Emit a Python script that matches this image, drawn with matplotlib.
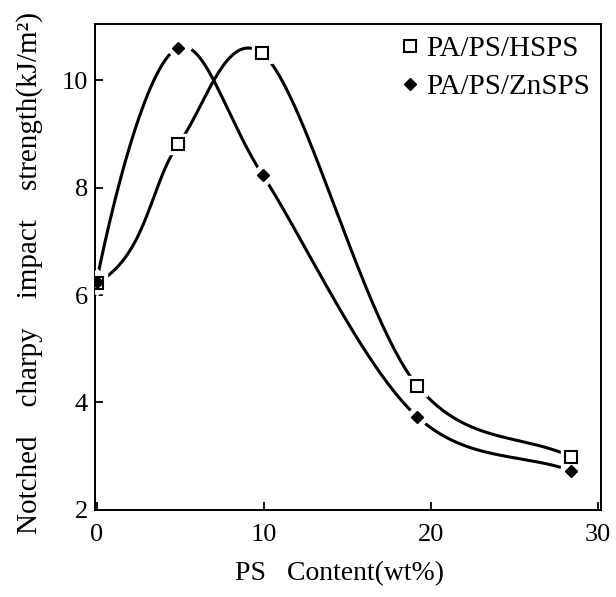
import matplotlib
matplotlib.use("Agg")
import matplotlib.pyplot as plt
import numpy as np

# PS content (wt%) and notched charpy impact strength (kJ/m^2)
x_hsps = [0.0, 4.9, 9.9, 19.2, 28.4]
y_hsps = [6.22, 8.81, 10.5, 4.31, 2.99]
x_znsps = [0.0, 4.85, 9.95, 19.2, 28.4]
y_znsps = [6.25, 10.6, 8.23, 3.73, 2.73]

XLIM = (-0.1, 30.2)
YLIM = (2, 11.05)


def smooth_curve(xs, ys, sx, sy, start_dir, alpha=0.15, n=60):
    """Catmull-Rom curve through the points, worked out in screen units."""
    p = np.column_stack([np.asarray(xs) * sx, np.asarray(ys) * sy])
    d = np.asarray(start_dir, float)
    d = d / np.linalg.norm(d)
    first = p[0] - 1.5 * d * np.linalg.norm(p[1] - p[0])
    p = np.vstack([first, p, 2 * p[-1] - p[-2]])
    out = []
    for i in range(1, len(p) - 2):
        p0, p1, p2, p3 = p[i - 1], p[i], p[i + 1], p[i + 2]
        t0 = 0.0
        t1 = t0 + np.linalg.norm(p1 - p0) ** alpha
        t2 = t1 + np.linalg.norm(p2 - p1) ** alpha
        t3 = t2 + np.linalg.norm(p3 - p2) ** alpha
        t = np.linspace(t1, t2, n)[:, None]
        a1 = (t1 - t) / (t1 - t0) * p0 + (t - t0) / (t1 - t0) * p1
        a2 = (t2 - t) / (t2 - t1) * p1 + (t - t1) / (t2 - t1) * p2
        a3 = (t3 - t) / (t3 - t2) * p2 + (t - t2) / (t3 - t2) * p3
        b1 = (t2 - t) / (t2 - t0) * a1 + (t - t0) / (t2 - t0) * a2
        b2 = (t3 - t) / (t3 - t1) * a2 + (t - t1) / (t3 - t1) * a3
        c = (t2 - t) / (t2 - t1) * b1 + (t - t1) / (t2 - t1) * b2
        out.append(c)
    out = np.vstack(out)
    return out[:, 0] / sx, out[:, 1] / sy


plt.rcParams["font.family"] = ["Liberation Serif", "DejaVu Serif"]

fig = plt.figure(figsize=(6.16, 5.97), dpi=100)
ax = fig.add_axes([0.154, 0.146, 0.822, 0.814])

# screen units per data unit, so the curve is smooth on the page
sx = 506 / (XLIM[1] - XLIM[0])
sy = 486 / (YLIM[1] - YLIM[0])
for xs, ys, start in [(x_hsps, y_hsps, (1, 0.1)), (x_znsps, y_znsps, (0.1, 1))]:
    cx, cy = smooth_curve(xs, ys, sx, sy, start)
    ax.plot(cx, cy, color="black", lw=2.2, zorder=2)

# white halos leave small gaps in the curves around the markers
ax.plot(x_hsps, y_hsps, ls="none", marker="s", ms=15, mfc="white", mec="white", zorder=3)
ax.plot(x_znsps, y_znsps, ls="none", marker="D", ms=13, mfc="white", mec="white", zorder=3)
ax.plot(x_hsps, y_hsps, ls="none", marker="s", ms=8, mfc="white", mec="black",
        mew=1.5, zorder=4, label="PA/PS/HSPS")
ax.plot(x_znsps, y_znsps, ls="none", marker="D", ms=6.5, mfc="black", mec="black",
        zorder=4, label="PA/PS/ZnSPS")

ax.set_xlim(*XLIM)
ax.set_ylim(*YLIM)
ax.set_xticks([0, 10, 20, 30])
ax.set_yticks([2, 4, 6, 8, 10])
ax.tick_params(direction="in", length=6, width=1.3, labelsize=19)
ax.tick_params(axis="x", pad=10)
ax.tick_params(axis="y", pad=5)
for sp in ax.spines.values():
    sp.set_linewidth(1.4)

ax.set_xlabel("PS   Content(wt%)", fontsize=20)
ax.xaxis.set_label_coords(0.484, -0.105)
ax.set_ylabel("Notched    charpy    impact    strength(kJ/m²)", fontsize=21)
ax.yaxis.set_label_coords(-0.102, 0.487)

ax.legend(loc="upper right", frameon=False, fontsize=21, handletextpad=0.1,
          handlelength=0.9, borderaxespad=0.15, borderpad=0.25, labelspacing=0.4)

fig.savefig("out.png", dpi=100)
